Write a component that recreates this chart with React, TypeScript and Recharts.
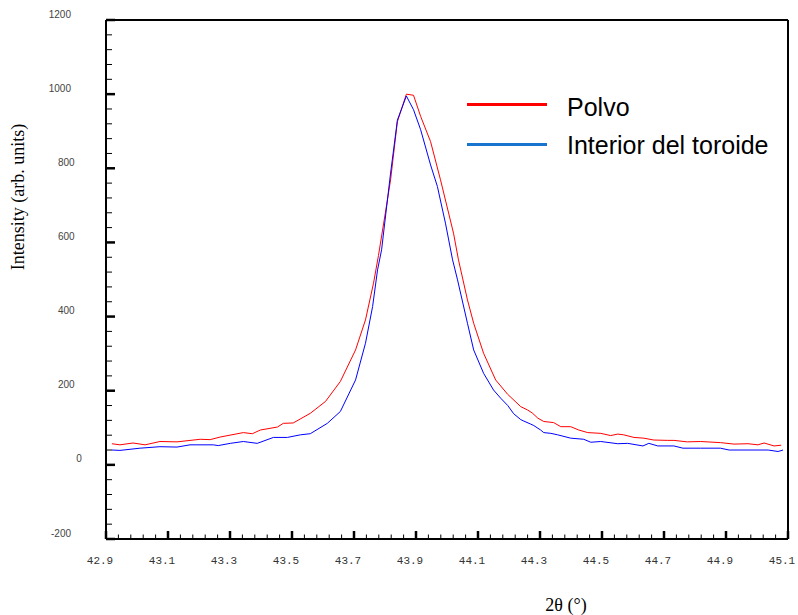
import React from 'react';
import { ComposedChart, Line, XAxis, YAxis, Legend } from 'recharts';

// 2θ (degrees) and intensity for "Polvo"
const polvoTheta = [42.919, 42.945, 42.987, 43.026, 43.074, 43.129, 43.204, 43.236, 43.268, 43.343, 43.372, 43.398, 43.453, 43.472, 43.504, 43.559, 43.608, 43.656, 43.705, 43.737, 43.763, 43.779, 43.801, 43.818, 43.84, 43.869, 43.892, 43.915, 43.947, 43.979, 44.021, 44.037, 44.066, 44.086, 44.118, 44.157, 44.196, 44.238, 44.26, 44.275, 44.293, 44.312, 44.344, 44.367, 44.399, 44.425, 44.454, 44.496, 44.528, 44.551, 44.57, 44.603, 44.635, 44.667, 44.712, 44.732, 44.775, 44.818, 44.882, 44.926, 44.971, 45.003, 45.023, 45.055, 45.078];
const polvoIntensity = [57, 54, 59, 54, 63, 62, 69, 68, 75, 87, 84, 94, 102, 112, 113, 139, 171, 225, 310, 391, 490, 565, 679, 769, 926, 1000, 997, 940, 872, 769, 625, 553, 445, 382, 301, 229, 190, 157, 148, 140, 126, 117, 114, 103, 103, 94, 87, 85, 79, 83, 81, 74, 72, 67, 66, 66, 62, 63, 60, 56, 57, 54, 59, 51, 53];

// 2θ (degrees) and intensity for "Interior del toroide"
const interiorTheta = [42.919, 42.945, 43.01, 43.074, 43.129, 43.171, 43.246, 43.262, 43.301, 43.343, 43.388, 43.44, 43.485, 43.527, 43.559, 43.614, 43.656, 43.705, 43.737, 43.76, 43.776, 43.789, 43.818, 43.84, 43.869, 43.892, 43.915, 43.947, 43.969, 43.995, 44.018, 44.034, 44.066, 44.086, 44.118, 44.15, 44.173, 44.196, 44.215, 44.238, 44.248, 44.27, 44.28, 44.302, 44.312, 44.335, 44.357, 44.399, 44.441, 44.464, 44.496, 44.551, 44.583, 44.632, 44.651, 44.68, 44.732, 44.761, 44.818, 44.882, 44.91, 45.036, 45.068, 45.084];
const interiorIntensity = [40, 39, 45, 49, 48, 54, 54, 52, 58, 63, 58, 74, 74, 81, 84, 112, 144, 229, 328, 427, 526, 580, 787, 930, 995, 958, 904, 809, 751, 652, 553, 499, 382, 310, 247, 202, 180, 160, 138, 122, 118, 110, 106, 94, 87, 85, 81, 72, 69, 61, 63, 57, 58, 51, 58, 51, 51, 45, 45, 45, 40, 40, 36, 40];

const seriesNames = ['Polvo', 'Interior del toroide'];
const lineColors = ['#FF0000', '#0000FF'];
const legendColors = ['#FF0000', '#1874CD'];

const xMajorTicks = [42.9, 43.1, 43.3, 43.5, 43.7, 43.9, 44.1, 44.3, 44.5, 44.7, 44.9, 45.1];
const yMajorTicks = [-200, 0, 200, 400, 600, 800, 1000, 1200];

const withMinor = (majors: number[], parts: number) => {
  const out: number[] = [];
  for (let i = 0; i < majors.length; i++) {
    out.push(majors[i]);
    if (i < majors.length - 1) {
      const step = (majors[i + 1] - majors[i]) / parts;
      for (let k = 1; k < parts; k++) out.push(Number((majors[i] + k * step).toFixed(4)));
    }
  }
  return out;
};

const xAllTicks = withMinor(xMajorTicks, 5);
const yAllTicks = withMinor(yMajorTicks, 5);

const isMajor = (v: number, majors: number[]) => majors.some((m) => Math.abs(m - v) < 1e-6);

const polvoData = polvoTheta.map((t, i) => ({ theta: t, intensity: polvoIntensity[i] }));
const interiorData = interiorTheta.map((t, i) => ({ theta: t, intensity: interiorIntensity[i] }));

const BottomTick = (props: any) => {
  const { x, y, payload } = props;
  const major = isMajor(payload.value, xMajorTicks);
  return (
    <g>
      <line x1={x} x2={x} y1={y} y2={y - (major ? 8 : 4.5)} stroke="#000" strokeWidth={major ? 2.5 : 1} />
      {major && (
        <text x={x - 6} y={y + 25} textAnchor="middle" fontFamily="'Liberation Mono', monospace" fontSize={11} fill="#333">
          {payload.value.toFixed(1)}
        </text>
      )}
    </g>
  );
};

const TopTick = (props: any) => {
  const { x, y, payload } = props;
  const major = isMajor(payload.value, xMajorTicks);
  return <line x1={x} x2={x} y1={y} y2={y + (major ? 8 : 4.5)} stroke="#000" strokeWidth={major ? 2.5 : 1} />;
};

const LeftTick = (props: any) => {
  const { x, y, payload } = props;
  const major = isMajor(payload.value, yMajorTicks);
  const label = String(payload.value);
  return (
    <g>
      <line x1={x} x2={x + (major ? 9 : 6)} y1={y} y2={y} stroke="#000" strokeWidth={major ? 2.5 : 1} />
      {major && (
        <text x={x - 35 + (4 - label.length) * 3.6} y={y - 2.5} textAnchor="end" fontFamily="'Liberation Sans', Arial, sans-serif" fontSize={10} fill="#444">
          {label}
        </text>
      )}
    </g>
  );
};

const RightTick = (props: any) => {
  const { x, y, payload } = props;
  const major = isMajor(payload.value, yMajorTicks);
  return <line x1={x} x2={x - (major ? 9 : 6)} y1={y} y2={y} stroke="#000" strokeWidth={major ? 2.5 : 1} />;
};

const YTitle = () => (
  <text x={24} y={197} transform="rotate(-90, 24, 197)" textAnchor="middle" fontFamily="'Liberation Serif', 'Times New Roman', serif" fontSize={18} fill="#000">
    Intensity (arb. units)
  </text>
);

const XTitle = () => (
  <text x={566} y={611} textAnchor="middle" fontFamily="'Liberation Serif', 'Times New Roman', serif" fontSize={18} fill="#000">
    2θ (°)
  </text>
);

const LegendContent = (props: any) => {
  const payload = [...(props.payload || [])].sort(
    (a: any, b: any) => seriesNames.indexOf(a.value) - seriesNames.indexOf(b.value)
  );
  return (
    <div style={{ position: 'relative', width: 340, height: 80 }}>
      {payload.map((entry: any, i: number) => {
        const idx = seriesNames.indexOf(entry.value);
        const top = i * 40;
        return (
          <React.Fragment key={i}>
            <div style={{ position: 'absolute', left: 7, top: 17.5 + top, width: 80, height: 3, background: legendColors[idx >= 0 ? idx : i] }} />
            <div
              style={{
                position: 'absolute',
                left: 107,
                top: 9.8 + (i === 0 ? 0 : 38),
                fontFamily: "'Liberation Sans', Arial, sans-serif",
                fontSize: 25,
                lineHeight: '25px',
                color: '#000',
                whiteSpace: 'nowrap',
              }}
            >
              {entry.value}
            </div>
          </React.Fragment>
        );
      })}
    </div>
  );
};

export default function App() {
  return (
    <div style={{ position: 'absolute', left: 0, top: 0, width: 798, height: 615, background: '#fff' }}>
      <ComposedChart width={798} height={615} margin={{ top: 0, right: 0, bottom: 0, left: 0 }}>
        <XAxis
          xAxisId="bottom"
          dataKey="theta"
          type="number"
          domain={[42.9, 45.1]}
          ticks={xAllTicks}
          interval={0}
          height={76}
          tickSize={0}
          tickMargin={0}
          tickLine={false}
          axisLine={{ stroke: '#000', strokeWidth: 2 }}
          tick={<BottomTick />}
          label={<XTitle />}
        />
        <XAxis
          xAxisId="top"
          orientation="top"
          dataKey="theta"
          type="number"
          domain={[42.9, 45.1]}
          ticks={xAllTicks}
          interval={0}
          height={20}
          tickSize={0}
          tickMargin={0}
          tickLine={false}
          axisLine={{ stroke: '#000', strokeWidth: 2 }}
          tick={<TopTick />}
        />
        <YAxis
          yAxisId="left"
          type="number"
          domain={[-200, 1200]}
          ticks={yAllTicks}
          interval={0}
          width={106}
          tickSize={0}
          tickMargin={0}
          tickLine={false}
          axisLine={{ stroke: '#000', strokeWidth: 2 }}
          tick={<LeftTick />}
          label={<YTitle />}
        />
        <YAxis
          yAxisId="right"
          orientation="right"
          type="number"
          domain={[-200, 1200]}
          ticks={yAllTicks}
          interval={0}
          width={10}
          tickSize={0}
          tickMargin={0}
          tickLine={false}
          axisLine={{ stroke: '#000', strokeWidth: 2 }}
          tick={<RightTick />}
        />
        <Legend
          layout="horizontal"
          verticalAlign="middle"
          align="center"
          itemSorter={null}
          content={<LegendContent />}
          wrapperStyle={{ position: 'absolute', left: 460, top: 85, width: 340, height: 80 }}
        />
        <Line
          xAxisId="bottom"
          yAxisId="left"
          data={polvoData}
          dataKey="intensity"
          name={seriesNames[0]}
          type="linear"
          stroke={lineColors[0]}
          strokeWidth={1}
          dot={false}
          activeDot={false}
          isAnimationActive={false}
        />
        <Line
          xAxisId="bottom"
          yAxisId="left"
          data={interiorData}
          dataKey="intensity"
          name={seriesNames[1]}
          type="linear"
          stroke={lineColors[1]}
          strokeWidth={1}
          dot={false}
          activeDot={false}
          isAnimationActive={false}
        />
      </ComposedChart>
    </div>
  );
}
